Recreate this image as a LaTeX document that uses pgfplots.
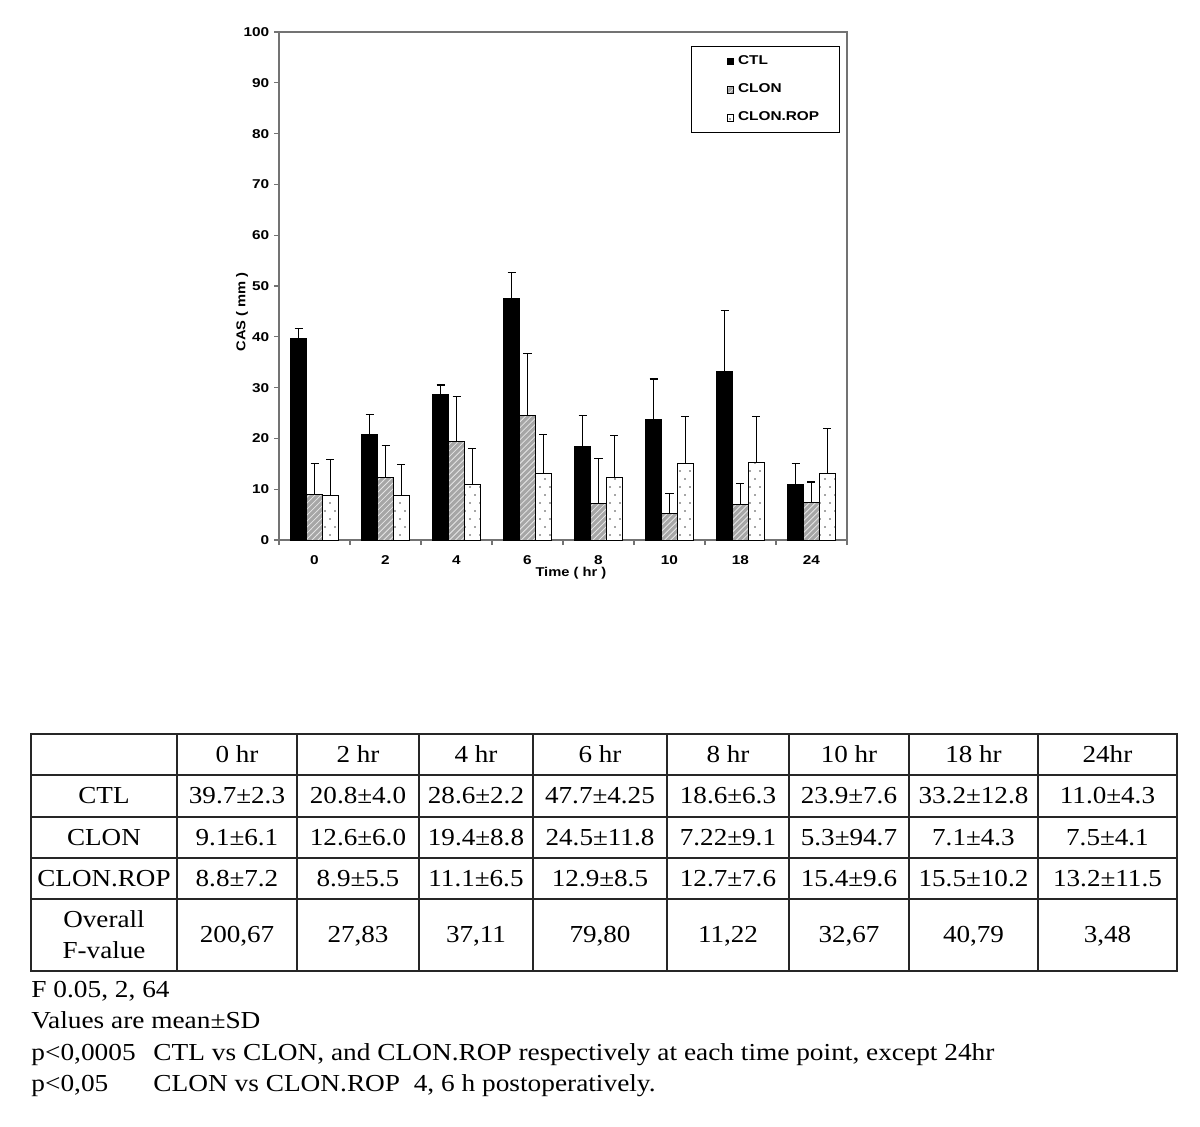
\documentclass[border=0pt]{standalone}
\usepackage{fontspec}
\setmainfont{Liberation Serif}
\newfontfamily\chartfont{Liberation Sans}
\usepackage{graphicx}
\usepackage{pgfplots}
\usepackage{pgfplotstable}
\pgfplotsset{compat=1.18}
\usetikzlibrary{patterns}
\pgfdeclarepatternformonly{sparsedots}{\pgfqpoint{-1bp}{-1bp}}{\pgfqpoint{6bp}{9bp}}{\pgfqpoint{5bp}{8bp}}{%
  \pgfpathcircle{\pgfqpoint{0bp}{0bp}}{0.4bp}%
  \pgfpathcircle{\pgfqpoint{2.5bp}{4bp}}{0.4bp}%
  \pgfusepath{fill}}
\newcommand\cf{\chartfont\bfseries\fontsize{6.4bp}{7bp}\selectfont}
\newcommand\sx[1]{\scalebox{1.2}[1]{#1}}
\newcommand\tf{\fontsize{12.2bp}{15.5bp}\selectfont}

% x positions are the bar centres (group index -0.225 / 0 / +0.225)
\pgfplotstableread{
x y e
-0.225 39.7 2.0
0.775 20.8 3.9
1.775 28.6 1.9
2.775 47.6 5.0
3.775 18.5 6.0
4.775 23.8 7.9
5.775 33.1 12.1
6.775 11.0 4.0
}\ctl
\pgfplotstableread{
x y e
0 9.0 6.0
1 12.4 6.2
2 19.3 9.0
3 24.5 12.2
4 7.1 9.0
5 5.2 4.0
6 6.9 4.2
7 7.3 4.1
}\clon
\pgfplotstableread{
x y e
0.225 8.7 7.1
1.225 8.7 6.1
2.225 11.0 7.0
3.225 13.0 7.8
4.225 12.4 8.1
5.225 15.1 9.2
6.225 15.3 9.0
7.225 13.1 8.9
}\rop

\begin{document}
\begin{tikzpicture}
\path (0,0) rectangle (600bp,-563.5bp);
\begin{axis}[
  at={(139.5bp,-16bp)}, anchor=north west,
  scale only axis, width=284bp, height=254bp,
  xmin=-0.5, xmax=7.5, ymin=0, ymax=100,
  xtick={0,...,7}, xticklabels={0,2,4,6,8,10,18,24},
  minor xtick={-0.5,0.5,...,7.5},
  ytick={0,10,...,100},
  xtick pos=bottom, ytick pos=left,
  tick align=outside,
  major tick length=2.5bp, minor tick length=2.5bp,
  major x tick style={draw=none},
  tick style={black!55, line width=0.6bp},
  axis line style={black!55, line width=0.7bp},
  tick label style={font=\cf, xscale=1.2},
  xticklabel style={anchor=north, text height=4.6bp, text depth=0pt, yshift=-1.5bp},
  yticklabel style={xshift=1.5bp},
  /pgf/number format/assume math mode=true,
  xlabel={Time ( hr )}, ylabel={CAS ( mm )},
  label style={font=\cf, xscale=1.15},
  xlabel style={at={(axis description cs:0.514,-0.065)}, anchor=center},
  ylabel style={at={(axis description cs:-0.065,0.449)}, anchor=center, rotate=0},
  legend style={at={(0.725,0.972)}, anchor=north west, draw=black, line width=0.6bp,
    font=\cf, inner xsep=8bp, inner ysep=2.3bp, row sep=4.2bp},
  legend cell align=left,
  legend image code/.code={\path (0bp,0bp); \draw[#1, line width=0.4bp] (9.5bp,-1.7bp) rectangle (12.9bp,1.7bp);},
  error bars/error bar style={black, line width=0.6bp},
  error bars/error mark options={black, line width=0.6bp, mark size=2bp, rotate=90},
]
\addplot[ybar, bar width=0.225, bar shift=0, draw=black, fill=black, line width=0.5bp,
  error bars/.cd, y dir=plus, y explicit] table[x=x, y=y, y error=e] {\ctl};
\addplot[ybar, bar width=0.225, bar shift=0, draw=black, fill=gray!70, line width=0.5bp,
  postaction={pattern=north east lines, pattern color=white!80!gray},
  error bars/.cd, y dir=plus, y explicit] table[x=x, y=y, y error=e] {\clon};
\addplot[ybar, bar width=0.225, bar shift=0, draw=black, fill=white, line width=0.5bp,
  postaction={pattern=sparsedots, pattern color=black!70},
  error bars/.cd, y dir=plus, y explicit] table[x=x, y=y, y error=e] {\rop};
\legend{\sx{CTL},\sx{CLON},\sx{CLON.ROP}}
\end{axis}

\begin{scope}[x=0.5bp, y=-0.5bp]
  % table grid
  \draw[line width=0.8bp, black!85] (31,734) rectangle (1177,971);
  \foreach \yy in {775,817,858,899} \draw[line width=0.8bp, black!85] (31,\yy) -- (1177,\yy);
  \foreach \xx in {177,297,419,533,667,789,909,1038} \draw[line width=0.8bp, black!85] (\xx,734) -- (\xx,971);
  % header
  \foreach \cx/\t in {237/0 hr, 358/2 hr, 476/4 hr, 600/6 hr, 728/8 hr, 849/10 hr, 973.5/18 hr, 1107.5/24hr}
    \node[anchor=base, inner sep=0, font=\tf, xscale=1.11] at (\cx,762.5) {\t};
  % row labels
  \node[anchor=base, inner sep=0, font=\tf, xscale=1.11] at (104,804) {CTL};
  \node[anchor=base, inner sep=0, font=\tf, xscale=1.11] at (104,845.5) {CLON};
  \node[anchor=base, inner sep=0, font=\tf, xscale=1.11] at (104,886.5) {CLON.ROP};
  \node[align=center, inner sep=0, font=\tf, xscale=1.11] at (104,935) {Overall\\F-value};
  % CTL
  \foreach \cx/\t in {237/39.7±2.3, 358/20.8±4.0, 476/28.6±2.2, 600/47.7±4.25, 728/18.6±6.3, 849/23.9±7.6, 973.5/33.2±12.8, 1107.5/11.0±4.3}
    \node[anchor=base, inner sep=0, font=\tf, xscale=1.11] at (\cx,804) {\t};
  % CLON
  \foreach \cx/\t in {237/9.1±6.1, 358/12.6±6.0, 476/19.4±8.8, 600/24.5±11.8, 728/7.22±9.1, 849/5.3±94.7, 973.5/7.1±4.3, 1107.5/7.5±4.1}
    \node[anchor=base, inner sep=0, font=\tf, xscale=1.11] at (\cx,845.5) {\t};
  % CLON.ROP
  \foreach \cx/\t in {237/8.8±7.2, 358/8.9±5.5, 476/11.1±6.5, 600/12.9±8.5, 728/12.7±7.6, 849/15.4±9.6, 973.5/15.5±10.2, 1107.5/13.2±11.5}
    \node[anchor=base, inner sep=0, font=\tf, xscale=1.11] at (\cx,886.5) {\t};
  % F values
  \foreach \cx/\t in {237/{200,67}, 358/{27,83}, 476/{37,11}, 600/{79,80}, 728/{11,22}, 849/{32,67}, 973.5/{40,79}, 1107.5/{3,48}}
    \node[anchor=base, inner sep=0, font=\tf, xscale=1.11] at (\cx,943) {\t};
  % notes
  \node[anchor=base west, inner sep=0, font=\tf, xscale=1.12] at (31,998) {F 0.05, 2, 64};
  \node[anchor=base west, inner sep=0, font=\tf, xscale=1.12] at (31,1029) {Values are mean±SD};
  \node[anchor=base west, inner sep=0, font=\tf, xscale=1.12] at (31,1061) {p<0,0005};
  \node[anchor=base west, inner sep=0, font=\tf, xscale=1.12] at (153,1061) {CTL vs CLON, and CLON.ROP respectively at each time point, except 24hr};
  \node[anchor=base west, inner sep=0, font=\tf, xscale=1.12] at (31,1092) {p<0,05};
  \node[anchor=base west, inner sep=0, font=\tf, xscale=1.12] at (153,1092) {CLON vs CLON.ROP\ \ 4, 6 h postoperatively.};
\end{scope}
\end{tikzpicture}
\end{document}
